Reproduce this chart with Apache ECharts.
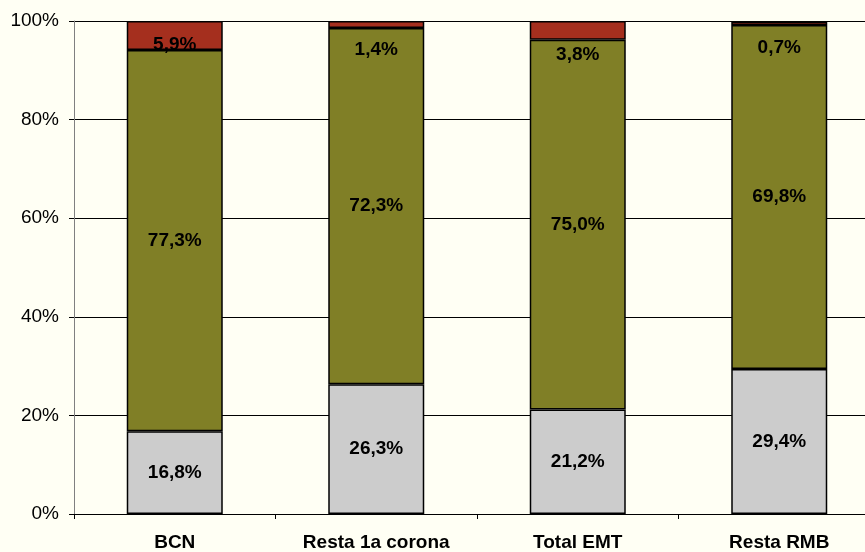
<!DOCTYPE html>
<html><head><meta charset="utf-8">
<script src="https://cdn.jsdelivr.net/npm/echarts@6/dist/echarts.min.js"></script>
<style>html,body{margin:0;padding:0;background:#FFFFF4;overflow:hidden;}#w{width:865px;height:552px;overflow:hidden;position:relative;}#c{position:absolute;left:0;top:0;width:880px;height:552px;}</style>
</head><body><div id="w"><div id="c"></div></div>
<script>
const categories = ['BCN', 'Resta 1a corona', 'Total EMT', 'Resta RMB'];
const grayValues = [16.8, 26.3, 21.2, 29.4];
const oliveValues = [77.3, 72.3, 75.0, 69.8];
const redValues = [5.9, 1.4, 3.8, 0.7];
const yTicks = [0, 20, 40, 60, 80, 100];
const redLabelOffsets = [9, 25, 24, 25];

const fmt = v => v.toFixed(1).replace('.', ',') + '%';
const labelStyle = {show: true, position: 'inside', color: '#000', fontFamily: 'Liberation Sans, Arial', fontWeight: 'bold', fontSize: 19,
  formatter: p => fmt(p.value)};
const chart = echarts.init(document.getElementById('c'), null, {renderer: 'canvas'});
chart.setOption({
  backgroundColor: '#FFFFF4',
  animation: false,
  grid: {left: 74, right: 0, top: 21, height: 494},
  xAxis: {
    type: 'category', data: categories,
    axisLine: {lineStyle: {color: '#000', width: 1}},
    axisTick: {show: true, alignWithLabel: false, length: 5, lineStyle: {color: '#000'}},
    axisLabel: {color: '#000', fontFamily: 'Liberation Sans, Arial', fontWeight: 'bold', fontSize: 19, margin: 19}
  },
  yAxis: {
    type: 'value', min: 0, max: 100, interval: 20,
    axisLine: {show: true, lineStyle: {color: '#808080', width: 1}},
    axisTick: {show: true, length: 5, lineStyle: {color: '#000'}},
    axisLabel: {color: '#000', fontFamily: 'Liberation Sans, Arial', fontSize: 19, margin: 15,
      formatter: v => yTicks.includes(v) ? v + '%' : ''},
    splitLine: {show: true, lineStyle: {color: '#000', width: 1}}
  },
  series: [
    {name: 'gray', type: 'bar', stack: 's', barWidth: 96, data: grayValues,
      itemStyle: {color: '#CCCCCC', borderColor: '#000', borderWidth: 1.5}, label: labelStyle},
    {name: 'olive', type: 'bar', stack: 's', barWidth: 96, data: oliveValues,
      itemStyle: {color: '#807F26', borderColor: '#000', borderWidth: 1.5}, label: labelStyle},
    {name: 'red', type: 'bar', stack: 's', barWidth: 96,
      data: redValues.map((v, i) => ({value: v, label: Object.assign({}, labelStyle, {offset: [0, redLabelOffsets[i]]})})),
      itemStyle: {color: '#A52F1E', borderColor: '#000', borderWidth: 1.5}, label: labelStyle}
  ]
});
</script></body></html>
